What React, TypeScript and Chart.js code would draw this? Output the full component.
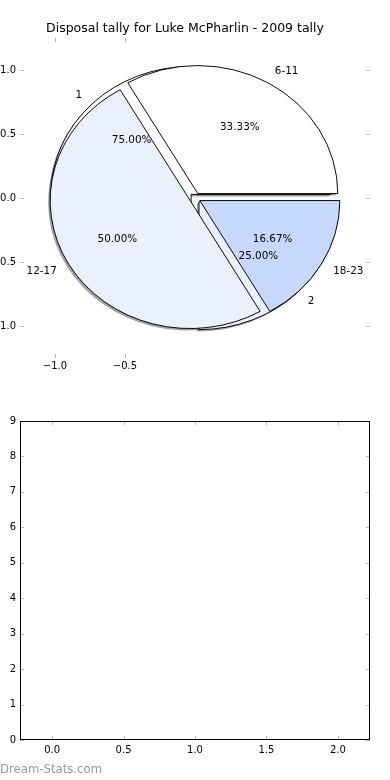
import React, { useEffect, useRef } from "react";
import { Chart, registerables } from "chart.js";

Chart.register(...registerables);

// ---------------- data ----------------
const TITLE = "Disposal tally for Luke McPharlin - 2009 tally";

const rangeLabels = ["6-11", "12-17", "18-23"];
const rangeValues = [2, 3, 1];
const rangeColors = ["#ffffff", "#eaf1fd", "#c6d9fd"];

const countLabels = ["1", "2"];
const countValues = [3, 1];
const countColors = ["#ffffff", "#eaf1fd"];

const EXPLODE = 0.04;
const LABEL_DIST = 1.1;
const PCT_DIST = 0.6;

const pieXTicks = [-1.0, -0.5];
const pieYTicks = [-1.0, -0.5, 0.0, 0.5, 1.0];
const pieLimit = 1.25;

const barXTicks = [0, 0.5, 1.0, 1.5, 2.0];
const barYTicks = [0, 1, 2, 3, 4, 5, 6, 7, 8, 9];
const barXMin = -0.225;
const barXMax = 2.225;
const barYMin = 0;
const barYMax = 9;

const WATERMARK = "Dream-Stats.com";

// ---------------- styles ----------------
const FONT = "'DejaVu Sans', 'Liberation Sans', sans-serif";
const TICK_COLOR = "#b8b8b8";
const TICK_LEN = 4;
const SHADOW_DX = -2;
const SHADOW_DY = 2;

const fmt1 = (v: number) => (v < 0 ? "\u2212" : "") + Math.abs(v).toFixed(1);
const fmt0 = (v: number) => (v < 0 ? "\u2212" : "") + Math.abs(v).toFixed(0);

function inwardTicks(frame: boolean) {
  return {
    id: "inwardTicks",
    afterDraw(chart: any) {
      const { ctx, chartArea: a, scales } = chart;
      const xs = scales.x;
      const ys = scales.y;
      ctx.save();
      ctx.strokeStyle = TICK_COLOR;
      ctx.lineWidth = 1;
      ctx.beginPath();
      xs.ticks.forEach((t: any) => {
        const px = Math.round(xs.getPixelForValue(t.value)) + 0.5;
        ctx.moveTo(px, a.top);
        ctx.lineTo(px, a.top + TICK_LEN);
        ctx.moveTo(px, a.bottom);
        ctx.lineTo(px, a.bottom - TICK_LEN);
      });
      ys.ticks.forEach((t: any) => {
        const py = Math.round(ys.getPixelForValue(t.value)) + 0.5;
        ctx.moveTo(a.left, py);
        ctx.lineTo(a.left + TICK_LEN, py);
        ctx.moveTo(a.right, py);
        ctx.lineTo(a.right - TICK_LEN, py);
      });
      ctx.stroke();
      if (frame) {
        ctx.strokeStyle = "#000";
        ctx.lineWidth = 1;
        ctx.strokeRect(a.left + 0.5, a.top + 0.5, a.right - a.left - 1, a.bottom - a.top - 1);
      }
      ctx.restore();
    },
  };
}

function axesConfig(o: {
  xMin: number; xMax: number; yMin: number; yMax: number;
  xTicks: number[]; yTicks: number[];
  xFmt: (v: number) => string; yFmt: (v: number) => string;
  title?: string; pad: any; yWidth: number; xHeight: number;
  xPad: number; frame: boolean;
}): any {
  return {
    type: "scatter",
    data: { datasets: [] },
    options: {
      responsive: false,
      animation: false,
      devicePixelRatio: 1,
      events: [],
      layout: { padding: o.pad },
      plugins: {
        legend: { display: false },
        tooltip: { enabled: false },
        title: o.title
          ? {
              display: true,
              text: o.title,
              color: "#000",
              font: { family: FONT, size: 12.5, weight: "normal", lineHeight: 1.2 },
              padding: { top: 21.5, bottom: 1.5 },
            }
          : { display: false },
      },
      scales: {
        x: {
          type: "linear",
          position: "bottom",
          min: o.xMin,
          max: o.xMax,
          afterBuildTicks: (s: any) => {
            s.ticks = o.xTicks.map((v) => ({ value: v }));
          },
          afterFit: (s: any) => {
            s.height = o.xHeight;
          },
          grid: { display: false, drawTicks: false },
          border: { display: false },
          ticks: {
            autoSkip: false,
            maxRotation: 0,
            padding: o.xPad,
            color: "#000",
            font: { family: FONT, size: 10 },
            callback: (v: any) => o.xFmt(Number(v)),
          },
        },
        y: {
          type: "linear",
          position: "left",
          min: o.yMin,
          max: o.yMax,
          afterBuildTicks: (s: any) => {
            s.ticks = o.yTicks.map((v) => ({ value: v }));
          },
          afterFit: (s: any) => {
            s.width = o.yWidth;
          },
          grid: { display: false, drawTicks: false },
          border: { display: false },
          ticks: {
            autoSkip: false,
            padding: 4,
            color: "#000",
            font: { family: FONT, size: 10 },
            callback: (v: any) => o.yFmt(Number(v)),
          },
        },
      },
    },
    plugins: [inwardTicks(o.frame)],
  };
}

function shade(hex: string) {
  const r = parseInt(hex.slice(1, 3), 16);
  const g = parseInt(hex.slice(3, 5), 16);
  const b = parseInt(hex.slice(5, 7), 16);
  return `rgba(${Math.round(r * 0.3)},${Math.round(g * 0.3)},${Math.round(b * 0.3)},0.5)`;
}

export default function App() {
  const topRef = useRef<HTMLCanvasElement>(null);
  const pieRef = useRef<HTMLCanvasElement>(null);
  const botRef = useRef<HTMLCanvasElement>(null);

  useEffect(() => {
    const top = new Chart(
      topRef.current as HTMLCanvasElement,
      axesConfig({
        xMin: -pieLimit, xMax: pieLimit, yMin: -pieLimit, yMax: pieLimit,
        xTicks: pieXTicks, yTicks: pieYTicks, xFmt: fmt1, yFmt: fmt1,
        title: TITLE,
        pad: { left: 0, right: 20, top: 0, bottom: 0 },
        yWidth: 20, xHeight: 32, xPad: 2, frame: false,
      })
    );

    const xs: any = top.scales.x;
    const ys: any = top.scales.y;
    const cx = xs.getPixelForValue(0);
    const cy = ys.getPixelForValue(0);
    const R = xs.getPixelForValue(1) - cx;
    const ky = (cy - ys.getPixelForValue(1)) / R;

    const ellipse = (ctx: CanvasRenderingContext2D) => {
      ctx.translate(cx, cy);
      ctx.scale(1, -ky);
      ctx.translate(-cx, -cy);
    };
    const toScreen = (px: number, py: number) => [px, cy - ky * (py - cy)];

    const pieSets = [
      { labels: rangeLabels, values: rangeValues, colors: rangeColors },
      { labels: countLabels, values: countValues, colors: countColors },
    ];

    const piePlugin = {
      id: "mplPie",
      afterDatasetsUpdate(chart: any) {
        chart.data.datasets.forEach((_: any, di: number) => {
          chart.getDatasetMeta(di).data.forEach((arc: any) => {
            const mid = (arc.startAngle + arc.endAngle) / 2;
            arc.x = cx + Math.cos(mid) * EXPLODE * R;
            arc.y = cy + Math.sin(mid) * EXPLODE * R;
            arc.innerRadius = 0;
            arc.outerRadius = R;
          });
        });
      },
      beforeDatasetsDraw(chart: any) {
        const ctx = chart.ctx as CanvasRenderingContext2D;
        ctx.save();
        ctx.translate(SHADOW_DX, SHADOW_DY);
        ellipse(ctx);
        for (let di = pieSets.length - 1; di >= 0; di--) {
          chart.getDatasetMeta(di).data.forEach((arc: any, i: number) => {
            ctx.beginPath();
            ctx.moveTo(arc.x, arc.y);
            ctx.arc(arc.x, arc.y, arc.outerRadius, arc.startAngle, arc.endAngle);
            ctx.closePath();
            ctx.fillStyle = shade(pieSets[di].colors[i]);
            ctx.fill();
          });
        }
        ctx.restore();
        ctx.save();
        ellipse(ctx);
      },
      afterDatasetsDraw(chart: any) {
        const ctx = chart.ctx as CanvasRenderingContext2D;
        ctx.restore();
        ctx.save();
        ctx.fillStyle = "#000";
        ctx.font = `10.4px ${FONT}`;
        ctx.textBaseline = "middle";
        for (let di = pieSets.length - 1; di >= 0; di--) {
          const set = pieSets[di];
          const total = set.values.reduce((a, b) => a + b, 0);
          chart.getDatasetMeta(di).data.forEach((arc: any, i: number) => {
            const mid = (arc.startAngle + arc.endAngle) / 2;
            const [lx, ly] = toScreen(
              arc.x + Math.cos(mid) * LABEL_DIST * R,
              arc.y + Math.sin(mid) * LABEL_DIST * R
            );
            ctx.textAlign = lx > cx ? "left" : "right";
            ctx.fillText(set.labels[i], lx, ly);
            const [qx, qy] = toScreen(
              arc.x + Math.cos(mid) * PCT_DIST * R,
              arc.y + Math.sin(mid) * PCT_DIST * R
            );
            ctx.textAlign = "center";
            ctx.fillText(((set.values[i] / total) * 100).toFixed(2) + "%", qx, qy);
          });
        }
        ctx.restore();
      },
    };

    const pie = new Chart(pieRef.current as HTMLCanvasElement, {
      type: "pie",
      data: {
        labels: rangeLabels,
        datasets: pieSets.map((s) => ({
          data: s.values,
          backgroundColor: s.colors,
          borderColor: "#000",
          borderWidth: 1,
          borderJoinStyle: "miter",
          clip: false,
        })) as any,
      },
      options: {
        responsive: false,
        animation: false,
        devicePixelRatio: 1,
        events: [],
        rotation: 90,
        plugins: { legend: { display: false }, tooltip: { enabled: false }, title: { display: false } },
      } as any,
      plugins: [piePlugin],
    });

    const bot = new Chart(
      botRef.current as HTMLCanvasElement,
      axesConfig({
        xMin: barXMin, xMax: barXMax, yMin: barYMin, yMax: barYMax,
        xTicks: barXTicks, yTicks: barYTicks, xFmt: fmt1, yFmt: fmt0,
        pad: { left: 0, right: 20, top: 31, bottom: 0 },
        yWidth: 20, xHeight: 40, xPad: 4, frame: true,
      })
    );

    return () => {
      pie.destroy();
      top.destroy();
      bot.destroy();
    };
  }, []);

  const abs: React.CSSProperties = { position: "absolute", left: 0, width: 390, height: 390 };
  return (
    <div style={{ position: "absolute", left: 0, top: 0, width: 390, height: 780, background: "#fff", overflow: "hidden" }}>
      <canvas ref={topRef} width={390} height={390} style={{ ...abs, top: 0 }} />
      <canvas ref={pieRef} width={390} height={390} style={{ ...abs, top: 0 }} />
      <canvas ref={botRef} width={390} height={390} style={{ ...abs, top: 390 }} />
      <div
        style={{
          position: "absolute",
          left: 0,
          top: 761,
          fontFamily: FONT,
          fontSize: "11.7px",
          lineHeight: "16px",
          color: "#999",
          whiteSpace: "nowrap",
        }}
      >
        {WATERMARK}
      </div>
    </div>
  );
}
